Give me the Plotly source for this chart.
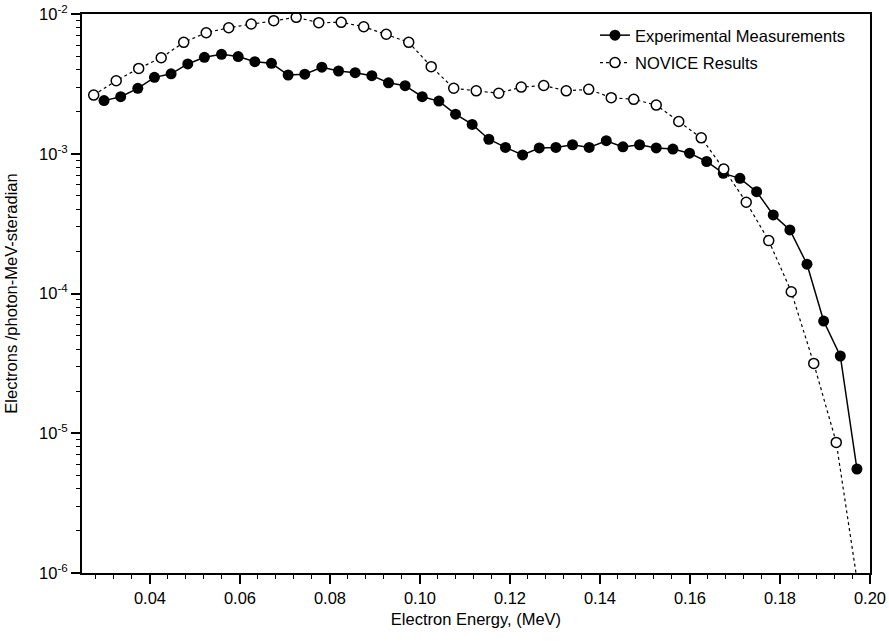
import plotly.graph_objects as go

# Measured electron spectrum (filled circles)
exp_energy = [0.0298, 0.0335, 0.0373, 0.0410, 0.0447, 0.0484, 0.0521, 0.0559,
              0.0596, 0.0633, 0.0670, 0.0707, 0.0744, 0.0782, 0.0819, 0.0856,
              0.0893, 0.0930, 0.0967, 0.1005, 0.1042, 0.1079, 0.1116, 0.1153,
              0.1190, 0.1228, 0.1265, 0.1302, 0.1339, 0.1376, 0.1414, 0.1451,
              0.1488, 0.1525, 0.1562, 0.1599, 0.1637, 0.1674, 0.1711, 0.1748,
              0.1785, 0.1822, 0.1860, 0.1897, 0.1934, 0.1971]
exp_yield = [2.40e-3, 2.56e-3, 2.94e-3, 3.52e-3, 3.73e-3, 4.39e-3, 4.90e-3, 5.15e-3,
             4.96e-3, 4.56e-3, 4.44e-3, 3.66e-3, 3.71e-3, 4.16e-3, 3.91e-3, 3.80e-3,
             3.62e-3, 3.22e-3, 3.07e-3, 2.56e-3, 2.38e-3, 1.92e-3, 1.62e-3, 1.27e-3,
             1.11e-3, 9.80e-4, 1.10e-3, 1.11e-3, 1.16e-3, 1.11e-3, 1.24e-3, 1.12e-3,
             1.16e-3, 1.10e-3, 1.08e-3, 1.01e-3, 8.80e-4, 7.24e-4, 6.67e-4, 5.35e-4,
             3.65e-4, 2.85e-4, 1.62e-4, 6.35e-5, 3.57e-5, 5.55e-6]

# NOVICE transport calculation (open circles)
nov_energy = [0.0275, 0.0325, 0.0375, 0.0425, 0.0475, 0.0525, 0.0575, 0.0625,
              0.0675, 0.0725, 0.0775, 0.0825, 0.0875, 0.0925, 0.0975, 0.1025,
              0.1075, 0.1125, 0.1175, 0.1225, 0.1275, 0.1325, 0.1375, 0.1425,
              0.1475, 0.1525, 0.1575, 0.1625, 0.1675, 0.1725, 0.1775, 0.1825,
              0.1875, 0.1925, 0.1975]
nov_yield = [2.63e-3, 3.33e-3, 4.08e-3, 4.86e-3, 6.27e-3, 7.34e-3, 7.98e-3, 8.48e-3,
             8.96e-3, 9.47e-3, 8.67e-3, 8.72e-3, 8.11e-3, 7.16e-3, 6.27e-3, 4.20e-3,
             2.94e-3, 2.82e-3, 2.71e-3, 3.00e-3, 3.08e-3, 2.82e-3, 2.89e-3, 2.52e-3,
             2.45e-3, 2.23e-3, 1.70e-3, 1.30e-3, 7.78e-4, 4.50e-4, 2.39e-4, 1.03e-4,
             3.16e-5, 8.60e-6, 7.40e-7]

x_ticks = [0.04, 0.06, 0.08, 0.10, 0.12, 0.14, 0.16, 0.18, 0.20]
x_ticktext = ["0.04", "0.06", "0.08", "0.10", "0.12", "0.14", "0.16", "0.18", "0.20"]
x_minor = [0.028, 0.032, 0.036, 0.044, 0.048, 0.052, 0.056, 0.064, 0.068, 0.072,
           0.076, 0.084, 0.088, 0.092, 0.096, 0.104, 0.108, 0.112, 0.116, 0.124,
           0.128, 0.132, 0.136, 0.144, 0.148, 0.152, 0.156, 0.164, 0.168, 0.172,
           0.176, 0.184, 0.188, 0.192, 0.196]
y_ticks = [1e-6, 1e-5, 1e-4, 1e-3, 1e-2]
y_ticktext = ["10<sup>-6</sup>", "10<sup>-5</sup>", "10<sup>-4</sup>",
              "10<sup>-3</sup>", "10<sup>-2</sup>"]
y_minor = [k * 10.0 ** e for e in range(-6, -2) for k in range(2, 10)]

x_range = [0.0249, 0.20]
y_range = [-6, -2]
FONT = "Arial, Liberation Sans, Helvetica, sans-serif"
FS = 16.5
axis_font = dict(family=FONT, size=FS, color="black")

fig = go.Figure()
fig.add_trace(go.Scatter(
    x=exp_energy, y=exp_yield, mode="lines+markers",
    name="Experimental Measurements", legendgroup="exp",
    line=dict(color="black", width=1.5),
    marker=dict(symbol="circle", size=11, color="black"),
))
fig.add_trace(go.Scatter(
    x=nov_energy, y=nov_yield, mode="lines+markers",
    name="NOVICE Results", legendgroup="nov",
    line=dict(color="black", width=1.2, dash="dot"),
    marker=dict(symbol="circle", size=10, color="white",
                line=dict(color="black", width=1.5)),
))


def frame_axis(vals, minor_vals, **extra):
    return dict(
        showgrid=False, zeroline=False,
        tickmode="array", tickvals=vals,
        ticks="outside", ticklen=9, tickwidth=1.5, tickcolor="black",
        showline=True, mirror=True, linecolor="black", linewidth=2,
        minor=dict(tickmode="array", tickvals=minor_vals, ticks="outside",
                   ticklen=4, tickwidth=1.2, tickcolor="black", showgrid=False),
        **extra,
    )


fig.update_layout(
    width=889, height=641,
    margin=dict(l=82, r=19, t=14, b=68),
    paper_bgcolor="white", plot_bgcolor="white",
    font=dict(family=FONT, size=FS, color="black"),
    showlegend=True,
    legend=dict(
        x=0.651, y=0.993, xanchor="left", yanchor="top",
        bgcolor="rgba(0,0,0,0)", borderwidth=0,
        font=dict(family=FONT, size=FS, color="black"),
        tracegroupgap=3,
    ),
    xaxis=frame_axis(
        x_ticks, x_minor, range=x_range, automargin=False,
        ticktext=x_ticktext, tickfont=axis_font,
        title=dict(text="Electron Energy, (MeV)", font=axis_font, standoff=8),
    ),
    yaxis=frame_axis(
        y_ticks, y_minor, type="log", range=y_range, automargin=False,
        ticktext=y_ticktext, tickfont=axis_font,
        title=dict(text="Electrons /photon-MeV-steradian", font=axis_font, standoff=17),
    ),
)

fig.write_html("out.html")
